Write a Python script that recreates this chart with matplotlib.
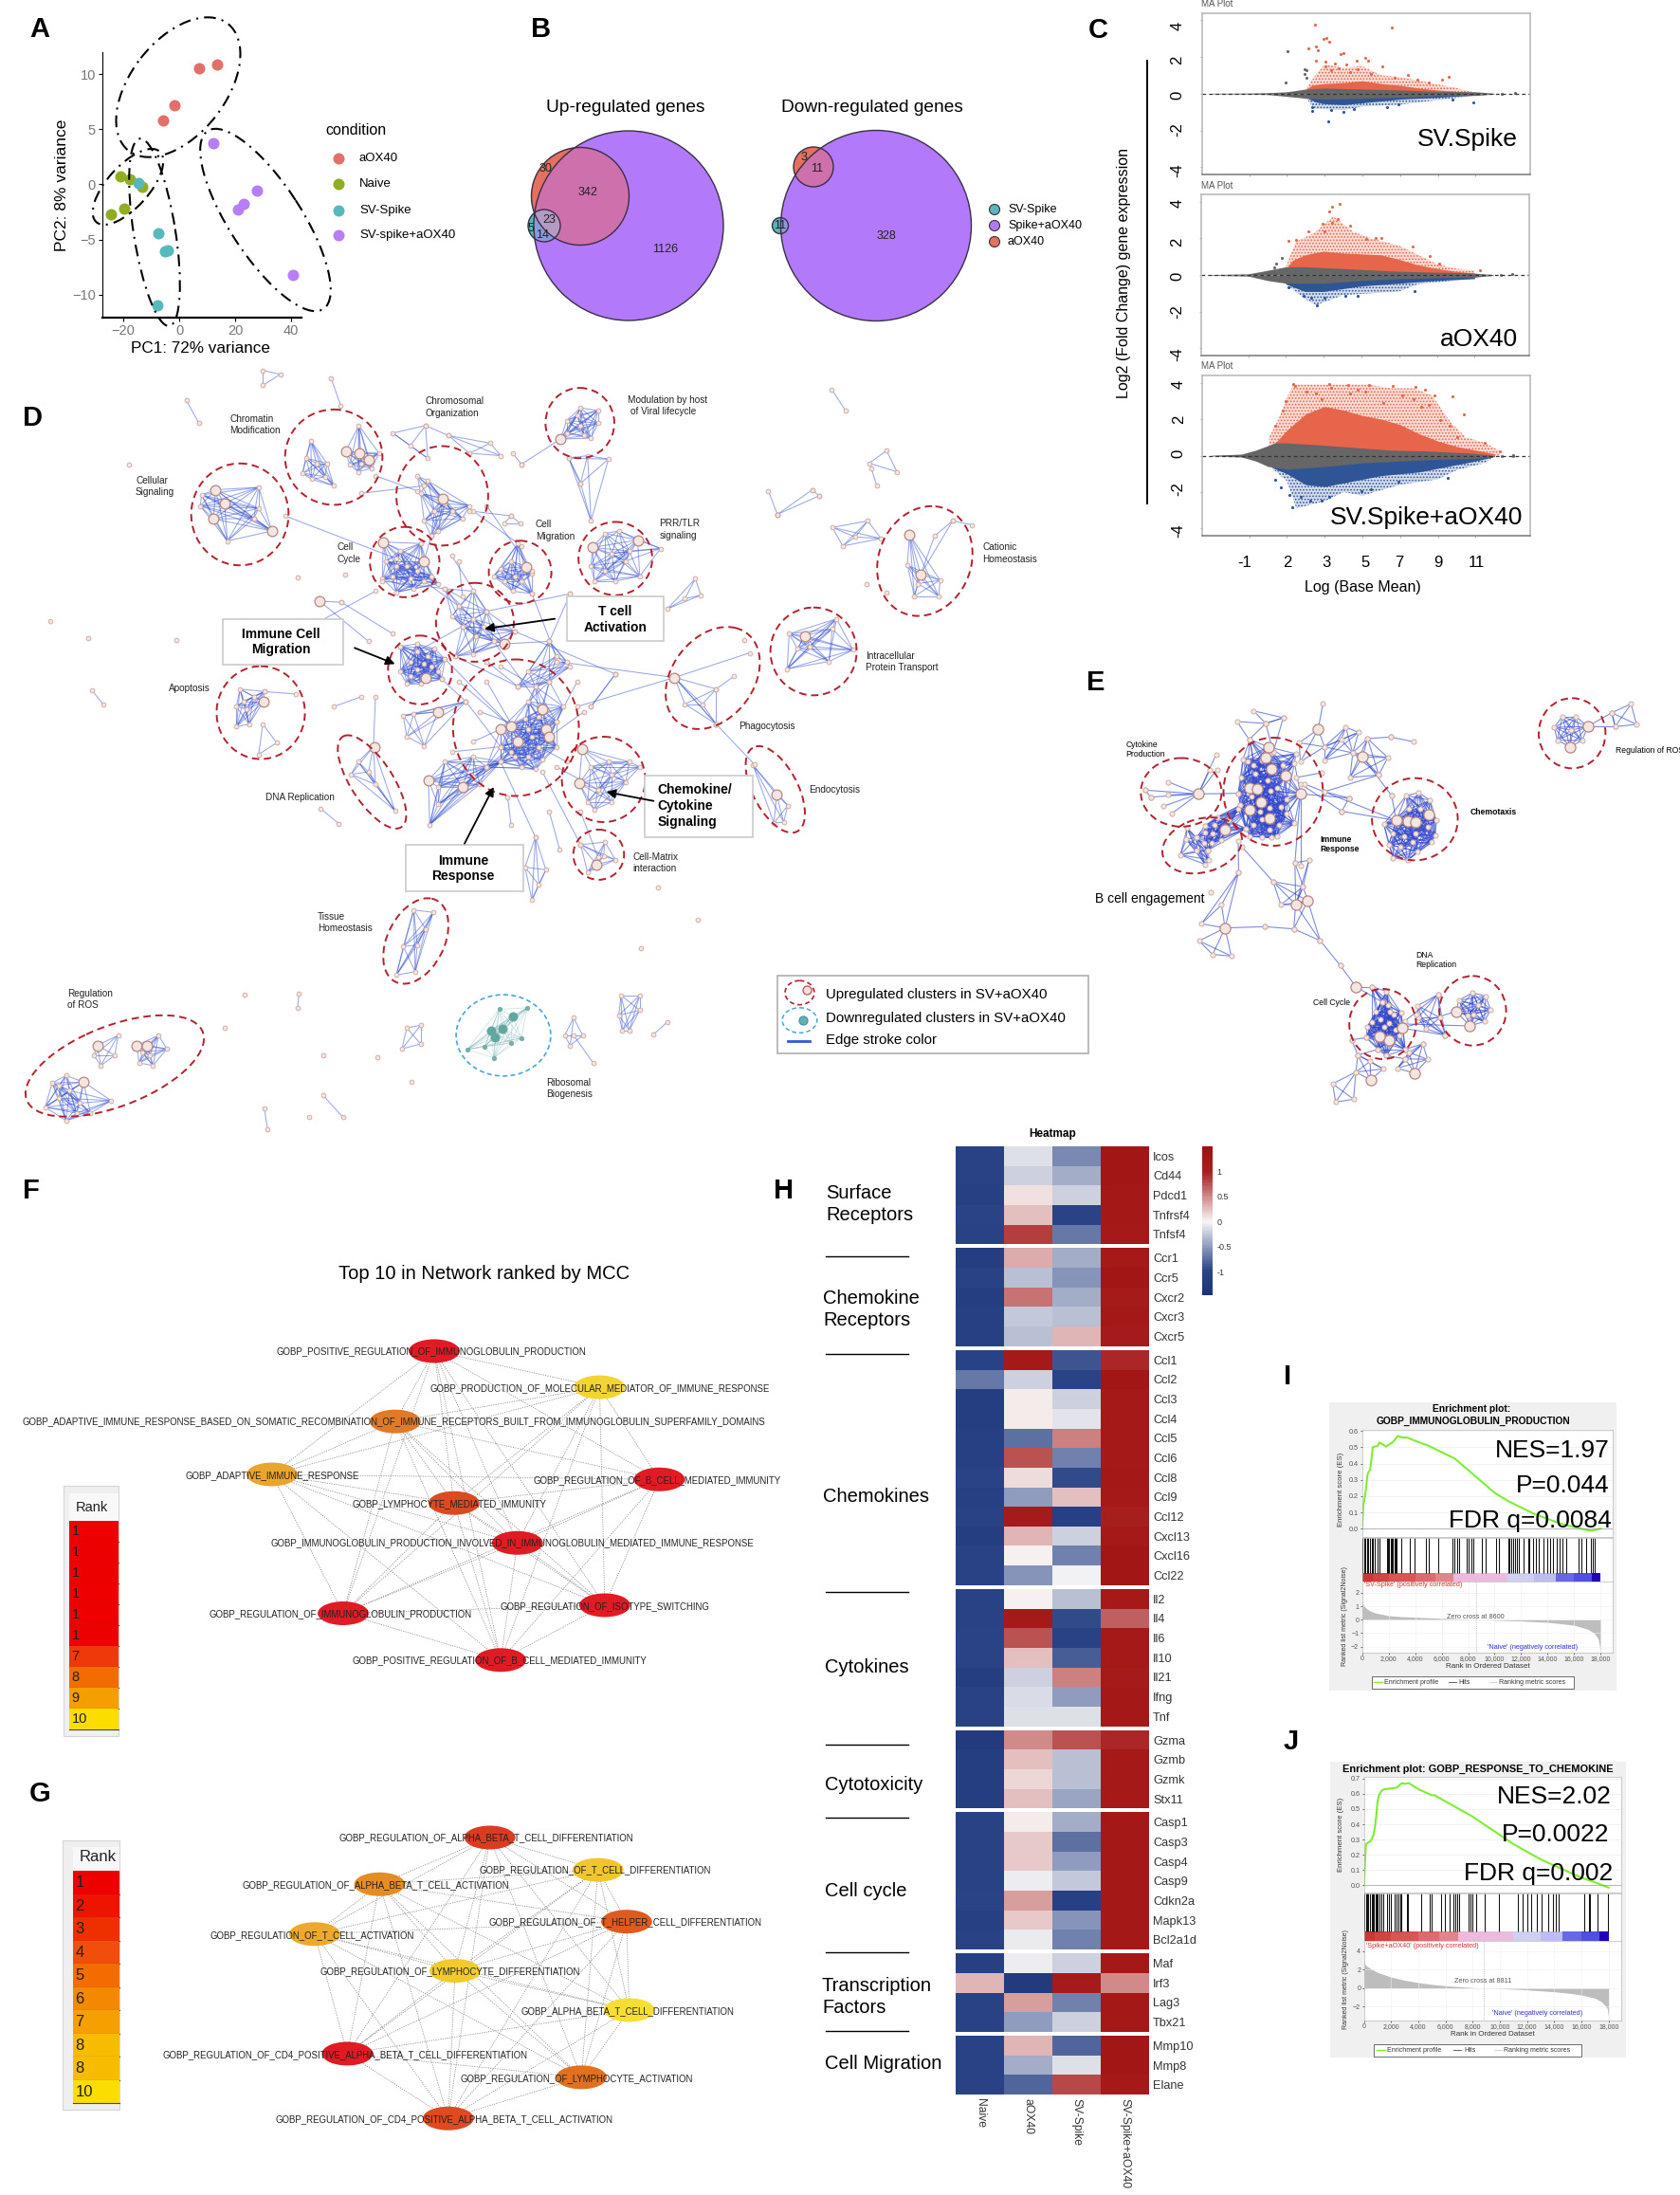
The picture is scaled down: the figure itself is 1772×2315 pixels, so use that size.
import itertools
import numpy as np
import matplotlib
matplotlib.use("Agg")
import matplotlib.pyplot as plt
from matplotlib.collections import LineCollection
from matplotlib.colors import LinearSegmentedColormap
from matplotlib.patches import Ellipse, Rectangle, FancyArrowPatch

plt.rcParams['font.family'] = ['Liberation Sans', 'DejaVu Sans']
plt.rcParams['hatch.linewidth'] = .8

W, H = 1772, 2315

# ---- A: PCA
pca_names = ['aOX40', 'Naive', 'SV-Spike', 'SV-spike+aOX40']
pca_colors = ['#E2706A', '#8FAE22', '#56B9BE', '#B77FF5']
pca_x = [[13.4, 7.2, -1.7, -5.7], [-20.9, -17.7, -13.4, -19.7, -24.4],
         [-14.7, -7.5, -4, -5, -7.7], [12, 27.9, 22.9, 20.9, 40.6]]
pca_y = [[10.85, 10.5, 7.2, 5.8], [.7, .5, -.2, -2.2, -2.7],
         [.1, -4.4, -6, -6.1, -11], [3.7, -.6, -1.75, -2.3, -8.2]]

# ---- C: MA plots. envelopes, (x, value)
ma_titles = ['SV.Spike', 'aOX40', 'SV.Spike+aOX40']
grey_up = [[(-3, .02), (-1, .03), (0, .05), (1, .1), (2, .25), (3, .3), (5, .25), (7, .2), (9, .12), (11, .1), (12, .02)],
           [(-3, .02), (-1, .06), (0, .25), (1, .45), (2, .45), (3, .4), (5, .3), (7, .2), (9, .15), (11, .1), (12, .02)],
           [(-3, .02), (-1.4, .08), (-.65, .3), (0, .55), (.35, .7), (.95, .7), (2.55, .6), (4.55, .45), (6.5, .3), (8.5, .25), (10.5, .15), (11.7, .05), (12, 0)]]
grey_lo = [[(-3, -.02), (-1, -.03), (0, -.05), (1, -.15), (2, -.25), (3, -.3), (5, -.25), (7, -.2), (9, -.12), (11, -.1), (12, -.02)],
           [(-3, -.02), (-1, -.06), (0, -.3), (1, -.45), (3, -.45), (5, -.3), (7, -.2), (9, -.15), (11, -.12), (12, -.02)],
           [(-3, -.02), (-1.4, -.08), (-.65, -.3), (0, -.6), (1, -.75), (3, -.6), (5, -.4), (7, -.3), (9, -.2), (11, -.15), (12, -.05)]]
red_dense = [[(1.9, .1), (2.3, .45), (3, .55), (4, .6), (5, .7), (6, .55), (7, .45), (8, .3), (9, .2), (10, .12), (11, .05)],
             [(.9, .2), (1.35, .8), (2, 1.1), (3, 1.3), (4, 1.2), (5, 1.15), (6, 1.1), (7, .85), (8, .55), (9, .35), (10, .2), (11, .1)],
             [(.2, .5), (1, 1.4), (2, 2.3), (3, 2.7), (4, 2.5), (5, 2.2), (6, 2), (7, 1.7), (8, 1.2), (9, .8), (10, .5), (11, .3), (12, .1)]]
red_sparse = [[(1.9, .1), (2.5, 1), (3, 1.6), (4, 1.4), (5, 1.5), (6, 1), (7, .9), (8, .7), (9, .5), (10, .3), (11, .05)],
              [(.9, .2), (1.5, 1.8), (2.5, 2.3), (3.5, 3.2), (4.5, 2.4), (5.5, 2), (7, 1.6), (8, 1.1), (9, .6), (10, .35), (11, .25)],
              [(.05, 1), (.55, 2), (.95, 3.1), (1.35, 3.9), (3.35, 3.9), (5.3, 3.9), (6.5, 3.7), (7.7, 3.7), (8.7, 3.3), (9.7, 1.8), (10.5, 1), (11.5, .7), (12.3, .25)]]
blue_dense = [[(2, -.2), (2.5, -.45), (3, -.55), (4, -.6), (5, -.5), (6, -.4), (7, -.3), (8, -.25), (9, -.2), (11, -.08)],
              [(1, -.5), (1.5, -.7), (2, -.9), (3, -.9), (4, -.75), (5, -.6), (7, -.45), (9, -.3), (11, -.2)],
              [(.3, -.7), (1, -1), (2, -1.6), (3, -1.7), (4, -1.5), (5, -1.3), (6, -1.1), (7, -1), (8, -.9), (9, -.7), (10, -.5), (11, -.3), (12, -.05)]]
blue_sparse = [[(2, -.2), (2.4, -.8), (3, -.85), (4, -.9), (5, -.7), (7, -.6), (9, -.35), (11, -.1)],
               [(1, -.5), (2, -1.3), (2.6, -1.65), (4, -1.1), (7, -.9), (8, -.5), (11, -.2)],
               [(.2, -.7), (1, -1.4), (1.5, -2.9), (3, -2.5), (4, -2), (5, -2.2), (7, -1.6), (9, -1.3), (10, -.8), (11.5, -.4), (12, -.05)]]
red_pts = [[(2.49, 3.75), (2.94, 3), (3.08, 3.05), (3.24, 2.84), (2.15, 2.48), (2.55, 2.55), (2.65, 2.38), (3.98, 2.23), (3.84, 2.13), (2.55, 1.77), (3.04, 1.75), (3.54, 1.66), (4.14, 1.6), (4.7, 1.81), (5.14, 1.96), (5.3, 1.77), (3.04, 1.5), (3.34, 1.28), (3.74, 1.39), (6.03, 1.5), (7.43, 1.03), (9.56, .9), (9.2, .76), (6.57, 3.58), (4.34, 1.18), (4.74, 1.33), (5.43, 1.07), (6.73, .86), (7.9, .76), (8.5, .61)],
           [(3.84, 3.89), (3.44, 3.75), (3.3, 3.47), (2.94, 2.8), (3.44, 2.84), (4.4, 2.69), (2.19, 2.38), (3.04, 2.38), (3.74, 3.05), (1.15, 1.85), (1.55, 1.9), (5.24, 1.96), (5.73, 2.04), (6.03, 2.04), (7.7, 1.54), (8.6, 1.05), (9.1, .63), (11.3, .27)],
           [(1.35, 3.94), (1.45, 3.83), (2.05, 3.52), (2.55, 3.41), (3.24, 3.94), (3.34, 3.73), (2.84, 3.09), (4.24, 3.89), (4.34, 3.41), (5.33, 3.89), (5.14, 3.52), (4.74, 3.62), (6.63, 3.83), (7.82, 3.79), (8.32, 3.62), (8.8, 3.3), (9.76, 3.24), (10.37, 2.25), (7.13, 3.3), (7.72, 3.09), (8.12, 2.67), (8.52, 2.78), (9.12, 1.94), (9.62, 1.62), (10.02, .99), (11.51, .72), (12.31, .25), (.95, 2.99), (.75, 2.46), (.35, 1.62), (6.13, 2.88)]]
blue_pts = [[(3.2, -1.52), (2.35, -.93), (3.98, -.99), (3.34, -.88), (10.9, -.46), (2.35, -.72), (4.54, -.82), (6.33, -.72), (6.93, -.57), (9.8, -.3)],
            [(2.65, -1.64), (1.95, -1.16), (3.04, -1.22), (4.14, -1.16), (4.78, -1.16), (7.79, -.9), (1.15, -.67), (2.35, -1.26)],
            [(1.29, -2.86), (1.15, -2.17), (1.75, -2.27), (2.25, -2.48), (2.84, -2.48), (3.24, -2.27), (4.94, -1.96), (5.43, -1.85), (6.93, -1.43), (9.52, -1.22), (.35, -1.33), (.65, -1.75)]]
grey_pts = [[(1.05, 2.32), (1.91, 1.33), (2.05, 1.28), (1.95, 1.07), (.95, .59), (2.05, .86), (13.1, .04), (12.4, 0)],
            [(.79, .95), (.49, .63), (.35, .42), (13, .05), (12.4, 0)],
            [(13, .05), (13, -.05), (12.4, 0)]]

# ---- H: heatmap
groups = [5, 5, 12, 7, 4, 7, 4, 3]
genes = ['Icos', 'Cd44', 'Pdcd1', 'Tnfrsf4', 'Tnfsf4', 'Ccr1', 'Ccr5', 'Cxcr2', 'Cxcr3', 'Cxcr5',
         'Ccl1', 'Ccl2', 'Ccl3', 'Ccl4', 'Ccl5', 'Ccl6', 'Ccl8', 'Ccl9', 'Ccl12', 'Cxcl13', 'Cxcl16', 'Ccl22',
         'Il2', 'Il4', 'Il6', 'Il10', 'Il21', 'Ifng', 'Tnf', 'Gzma', 'Gzmb', 'Gzmk', 'Stx11',
         'Casp1', 'Casp3', 'Casp4', 'Casp9', 'Cdkn2a', 'Mapk13', 'Bcl2a1d', 'Maf', 'Irf3', 'Lag3', 'Tbx21',
         'Mmp10', 'Mmp8', 'Elane']
heat_cols = ['Naive', 'aOX40', 'SV-Spike', 'SV-Spike+aOX40']
heat = [[-1.05, -.12, -.6, 1.3], [-1.05, -.2, -.4, 1.3], [-1.1, .1, -.2, 1.25], [-1, .25, -1, 1.25], [-1.05, .85, -.7, 1.2],
        [-1.15, .35, -.4, 1.2], [-1.05, -.3, -.55, 1.3], [-1.15, .6, -.4, 1.15], [-1.1, -.25, -.3, 1.25], [-1.1, -.3, .3, 1.15],
        [-1.05, 1.2, -.9, .95], [-.7, -.2, -1, 1.3], [-1.15, .05, -.2, 1.2], [-1.15, .05, -.1, 1.2], [-1.1, -.75, .55, 1.2],
        [-1.1, .75, -.65, 1.2], [-1, .12, -.95, 1.25], [-1.1, -.5, .25, 1.2], [-1.05, 1.15, -1.1, 1.05], [-1.15, .3, -.2, 1.2],
        [-1.05, .03, -.65, 1.3], [-1.05, -.55, -.03, 1.3],
        [-1.05, .03, -.3, 1.2], [-1.05, 1.2, -.95, .7], [-1, .75, -1.05, 1.2], [-1, .25, -.85, 1.2], [-1.15, -.2, .55, 1.15],
        [-1.05, -.15, -.5, 1.25], [-1.05, -.12, -.12, 1.25],
        [-1.25, .5, .75, .95], [-1.15, .25, -.3, 1.2], [-1.15, .15, -.3, 1.2], [-1.15, .25, -.45, 1.2],
        [-1.05, .05, -.4, 1.25], [-1.05, .2, -.75, 1.25], [-1.05, .2, -.5, 1.25], [-1.05, -.05, -.25, 1.25], [-1, .4, -1.1, 1.25],
        [-1.1, .2, -.55, 1.25], [-1.05, -.07, -.65, 1.25],
        [-1.1, -.05, -.2, 1.25], [.3, -1.25, 1.15, .5], [-1.05, .4, -.65, 1.25], [-1.05, -.5, -.2, 1.25],
        [-1.05, .3, -.8, 1.3], [-1.05, -.4, -.12, 1.3], [-1.05, -.8, .8, 1.2]]
group_names = [('Surface\nReceptors', 871, 1270), ('Chemokine\nReceptors', 868, 1381), ('Chemokines', 868, 1579),
               ('Cytokines', 870, 1759), ('Cytotoxicity', 870, 1883), ('Cell cycle', 870, 1995),
               ('Transcription\nFactors', 867, 2106), ('Cell Migration', 870, 2177)]
group_lines = [1325, 1428, 1679, 1840, 1917, 2059, 2142]

# ---- I, J: GSEA
es_i = [(0, 0), (100, .15), (200, .19), (300, .25), (400, .33), (500, .35), (600, .36), (700, .42), (800, .5), (1000, .505), (1200, .51), (1300, .53), (1500, .52), (1800, .505), (2000, .515), (2300, .53), (2700, .57), (3000, .56), (3400, .56), (4000, .54), (5000, .51), (6000, .47), (7000, .43), (8000, .36), (9000, .29), (10000, .22), (11000, .17), (12000, .13), (13000, .09), (14000, .06), (15000, .03), (16000, .01), (17000, -.01), (17300, -.012), (18000, 0)]
hits_i = [48, 143, 238, 358, 477, 596, 715, 834, 954, 1144, 1311, 1860, 1955, 2050, 2146, 2241, 2336, 2432, 2527, 2622, 2980, 3576, 3934, 4840, 5006, 5722, 6794, 6961, 7152, 7319, 7915, 8058, 8225, 8392, 9012, 9298, 10132, 10299, 11014, 11133, 11252, 11395, 11562, 11682, 11801, 12158, 12516, 12635, 12874, 13112, 13303, 13708, 13946, 14185, 14423, 14662, 14900, 15138, 15377, 16330, 16569, 16926, 17284, 17403, 17522]
metric_i = [(0, 1.4), (100, 1.1), (300, .85), (600, .65), (1000, .5), (2000, .3), (3000, .22), (4000, .18), (6000, .1), (8000, .03), (8600, 0), (10000, -.04), (12000, -.1), (14000, -.2), (15000, -.3), (16000, -.42), (17000, -.7), (17500, -1), (17800, -1.4), (18000, -2.4)]
es_j = [(0, 0), (100, .2), (150, .27), (300, .28), (500, .29), (700, .33), (800, .38), (900, .45), (1000, .55), (1100, .59), (1300, .62), (1500, .63), (2000, .635), (2400, .64), (2800, .67), (3000, .665), (3300, .67), (4000, .63), (5000, .59), (5200, .59), (6000, .55), (7000, .5), (8000, .45), (9000, .39), (10000, .33), (11000, .27), (12000, .22), (13000, .17), (14000, .13), (15000, .09), (16000, .05), (17000, .02), (18000, -.015)]
hits_j = [47, 140, 209, 326, 442, 558, 675, 744, 837, 907, 1023, 1140, 1303, 1442, 1675, 1838, 2000, 2233, 2373, 2535, 2652, 2768, 3163, 3256, 4187, 4861, 4978, 5675, 5978, 6280, 6559, 6745, 6885, 7001, 7722, 7815, 8001, 8234, 8885, 9955, 11328, 11677, 12002, 12305, 12700, 13072, 13537, 13933, 14119, 14328, 16189, 16561, 16654, 17189, 17957]
metric_j = [(0, 3), (100, 2.5), (500, 2.1), (1000, 1.7), (2000, 1.2), (3000, .85), (4000, .6), (5000, .4), (6000, .25), (7000, .15), (8000, .05), (8811, 0), (10000, -.05), (11000, -.12), (12000, -.2), (13000, -.3), (14000, -.4), (15000, -.55), (16000, -.75), (17000, -1.1), (17500, -1.5), (17900, -2.2), (18000, -3.2)]
strip_edges = [0, 800, 2000, 4000, 5500, 6900, 8500, 11000, 13000, 14600, 16000, 17300, 18000]
strip_colors = ['#C93636', '#D24444', '#D95555', '#DC6A70', '#E2848C', '#EDB9DC', '#EBBBDD', '#CFCFF2', '#BDBDF0', '#6868E4', '#5050E0', '#2200BB']

# ---- D network nodes (x, y of the crop)
d_clusters = [
    [(447, 160), (440, 195), (455, 205), (470, 205), (435, 225), (448, 237), (468, 232), (480, 250)],
    [(516, 130), (497, 182), (517, 185), (530, 198), (503, 208), (515, 222), (535, 215), (520, 205), (545, 185)],
    [(290, 268), (310, 258), (323, 285), (288, 290), (307, 316), (365, 315), (391, 340), (327, 360), (372, 253), (372, 295)],
    [(615, 240), (605, 265), (637, 275), (650, 300), (675, 290), (610, 320), (625, 300), (630, 340), (620, 350), (665, 315), (640, 285), (600, 230), (612, 130), (645, 150)],
    [(565, 145), (612, 130), (590, 170), (615, 195)],
    [(645, 150), (675, 185), (705, 165), (720, 190)],
    [(806, 157), (835, 95), (815, 120), (860, 100), (850, 155), (835, 130), (860, 125), (815, 145), (840, 150), (830, 110)],
    [(835, 245), (850, 320), (875, 197), (818, 195), (845, 190)],
    [(551, 362), (610, 400), (585, 410), (570, 410), (600, 420), (565, 430), (590, 435), (610, 440), (575, 380), (555, 400), (620, 430), (570, 462), (595, 455), (630, 445), (550, 435), (605, 365)],
    [(757, 411), (720, 415), (735, 400), (710, 430), (740, 430), (725, 440), (750, 440), (737, 460), (765, 465), (745, 365), (765, 425)],
    [(917, 358), (852, 373), (890, 340), (870, 345), (905, 380), (880, 385), (850, 410), (870, 420), (920, 430), (885, 440), (900, 400), (855, 440), (950, 375)],
    [(1308, 347), (1305, 408), (1324, 427), (1320, 445), (1352, 438), (1350, 470), (1315, 470)],
    [(1344, 350), (1370, 320), (1324, 427)],
    [(1157, 549), (1135, 545), (1147, 575), (1197, 535), (1227, 577), (1192, 600), (1132, 615), (1165, 570), (1203, 515)],
    [(660, 490), (680, 460), (640, 455), (650, 510), (680, 515), (665, 530), (695, 530), (685, 550), (710, 560), (725, 565), (680, 585), (655, 590), (700, 500), (740, 540)],
    [(575, 570), (600, 580), (625, 575), (640, 595), (590, 600), (610, 605), (575, 620), (590, 630), (612, 632), (630, 620), (605, 645), (585, 645), (635, 635), (600, 565), (615, 590), (600, 615), (620, 610)],
    [(379, 680), (380, 660), (345, 655), (365, 670), (340, 690), (355, 695), (350, 680), (340, 730), (358, 725)],
    [(378, 725), (398, 762), (372, 785)],
    [(537, 770), (515, 800), (505, 825), (530, 820), (540, 845), (568, 897)],
    [(780, 695), (770, 650), (790, 640), (735, 730), (755, 715), (785, 735), (800, 720), (720, 735), (745, 760), (765, 750), (790, 750), (720, 770), (740, 790), (760, 790), (780, 795), (720, 800), (700, 810), (750, 810), (770, 815), (735, 780), (800, 770), (760, 680), (810, 690), (775, 710), (760, 735), (775, 770)],
    [(815, 600), (820, 610), (790, 560), (745, 650), (770, 650), (790, 640), (800, 590), (760, 620)],
    [(680, 830), (665, 850), (690, 845), (616, 837), (630, 850), (640, 800), (680, 790), (630, 885), (618, 925), (700, 810), (720, 800)],
    [(630, 700), (595, 705), (580, 708), (610, 768), (670, 680), (585, 750)],
    [(837, 775), (833, 843), (860, 855), (880, 825), (900, 840), (875, 800), (905, 800), (850, 810), (845, 880), (880, 880), (920, 810), (855, 895)],
    [(858, 1005), (868, 988), (885, 995), (835, 965), (845, 1020), (870, 960)],
    [(770, 950), (755, 1010), (785, 1015), (765, 1075), (775, 1045)],
    [(595, 1095), (623, 1100), (612, 1133), (580, 1168), (600, 1165), (570, 1225), (597, 1218)],
    [(65, 1488), (75, 1440), (95, 1425), (120, 1438), (115, 1480), (85, 1470), (100, 1455), (95, 1515), (130, 1500), (160, 1475), (85, 1445), (110, 1500)],
    [(140, 1365), (170, 1345), (145, 1405), (135, 1385), (165, 1385)],
    [(197, 1365), (212, 1365), (200, 1400), (220, 1405), (240, 1372), (228, 1345), (215, 1385), (205, 1380)],
    [(585, 1330), (605, 1325), (605, 1362), (578, 1372)],
    [(825, 1310), (812, 1345), (838, 1345), (820, 1365)],
    [(893, 1265), (920, 1265), (890, 1305), (920, 1295), (905, 1335), (895, 1335)],
    [(378, 20), (403, 28), (378, 50)],
    [(1275, 180), (1250, 205), (1290, 222)],
    [(1197, 333), (1212, 370), (1230, 352), (1248, 320), (1267, 355)],
    [(1000, 435), (960, 495), (985, 475), (1008, 468)],
    [(970, 632), (1030, 655), (1010, 685), (985, 685), (1030, 725)],
    [(1083, 807), (1117, 866), (1113, 922), (1127, 920), (1133, 887)],
    [(735, 310), (725, 325), (748, 325)],
]
d_pairs = [((268, 80), (286, 125)), ((476, 35), (490, 90)), ((1196, 58), (1216, 100)), ((132, 657), (148, 685)),
           ((480, 690), (520, 670)), ((461, 893), (487, 923)), ((465, 1465), (493, 1508)), ((380, 1490), (385, 1533)),
           ((430, 1262), (428, 1290)), ((940, 1343), (960, 1318)), ((1253, 215), (1261, 250)), ((1105, 260), (1118, 307)),
           ((1118, 307), (1168, 258)), ((1118, 307), (1178, 270)), ((1168, 258), (1178, 270)),
           ((825, 1345), (853, 1400)), ((750, 207), (806, 157)), ((737, 185), (750, 207)),
           ((391, 340), (365, 315)), ((410, 310), (570, 395)), ((610, 440), (660, 490)), ((620, 350), (610, 400)),
           ((710, 560), (780, 695)), ((640, 595), (735, 730)), ((680, 300), (750, 370)), ((460, 480), (491, 482)),
           ((491, 482), (565, 545)), ((460, 480), (530, 560)), ((800, 600), (970, 632)), ((850, 690), (885, 625)),
           ((830, 690), (970, 632)), ((970, 632), (1078, 583)), ((1030, 655), (1055, 630)), ((1030, 725), (1085, 805)),
           ((970, 632), (1030, 725)), ((540, 670), (537, 770)), ((720, 800), (770, 950)), ((780, 820), (835, 965)),
           ((800, 810), (860, 855)), ((540, 460), (460, 520)), ((550, 440), (640, 455)), ((725, 565), (790, 560)),
           ((740, 540), (885, 625)), ((820, 465), (790, 560)), ((765, 465), (800, 590)), ((700, 500), (820, 465)),
           ((665, 530), (600, 580)), ((655, 590), (745, 650)), ((635, 635), (670, 680)), ((425, 665), (380, 660)),
           ((885, 625), (850, 690)), ((660, 400), (665, 470)), ((650, 390), (700, 500)), ((610, 250), (520, 265)),
           ((1370, 320), (1398, 328)), ((835, 245), (818, 195)), ((835, 900), (860, 990)), ((730, 870), (735, 925)),
           ((790, 900), (805, 975)), ((675, 300), (735, 310)), ((700, 290), (765, 420)), ((540, 230), (600, 260)),
           ((670, 680), (720, 770)), ((700, 640), (750, 760)), ((660, 640), (735, 730)), ((690, 700), (760, 735)),
           ((680, 760), (720, 735)), ((650, 780), (720, 770)), ((830, 640), (800, 720)), ((840, 700), (790, 750)),
           ((815, 800), (775, 770)), ((720, 610), (770, 650)), ((700, 600), (745, 650))]
d_single = [(72, 520), (127, 553), (254, 558), (185, 208), (428, 432), (496, 427), (1070, 558), (946, 1050), (1003, 1115),
            (922, 1172), (352, 1263), (323, 1330), (465, 1385), (543, 1388), (592, 1438), (445, 1508), (1246, 445), (1275, 462)]
d_big = [(323, 285), (391, 340), (310, 258), (307, 316), (637, 275), (551, 362), (610, 400), (757, 411), (460, 480), (806, 157),
         (852, 373), (917, 358), (1324, 427), (1308, 347), (970, 632), (379, 680), (616, 837), (665, 850), (630, 700), (837, 775),
         (833, 843), (858, 1005), (197, 1365), (212, 1365), (140, 1365), (120, 1438), (517, 185), (497, 182), (530, 198),
         (1157, 549), (1117, 866), (780, 695), (735, 730), (785, 735), (745, 760), (720, 735), (790, 750), (725, 565), (612, 632), (538, 770)]
ribo = [(706, 1335), (712, 1348), (737, 1307), (722, 1332), (718, 1293), (758, 1290), (750, 1350), (735, 1360), (710, 1390), (672, 1373), (697, 1367)]
ribo_big = [(706, 1335), (712, 1348), (737, 1307), (722, 1332)]
# cx, cy, w, h, angle, colour
d_rings = [(480, 193, 140, 190, 0), (345, 307, 140, 203, 0), (636, 270, 132, 198, 0), (834, 125, 99, 140, 0),
           (582, 402, 100, 140, 0), (748, 422, 90, 125, 0), (885, 395, 106, 146, 0), (1330, 400, 135, 220, 8),
           (1170, 580, 124, 175, 0), (1025, 633, 125, 210, 18), (683, 522, 112, 157, 0), (604, 617, 92, 137, 0),
           (375, 702, 127, 185, 0), (535, 840, 65, 200, -23), (742, 732, 181, 272, 0), (868, 835, 120, 170, 0),
           (1115, 855, 68, 180, -18), (861, 985, 73, 100, 0), (598, 1157, 85, 175, 15), (165, 1406, 290, 150, -33)]
d_texts = [(330, 117, 'Chromatin'), (330, 139, 'Modification'), (612, 82, 'Chromosomal'), (612, 106, 'Organization'),
           (903, 79, 'Modulation by host'), (907, 102, 'of Viral lifecycle'), (195, 239, 'Cellular'), (195, 263, 'Signaling'),
           (485, 373, 'Cell'), (485, 397, 'Cycle'), (770, 327, 'Cell'), (770, 352, 'Migration'), (948, 325, 'PRR/TLR'),
           (948, 349, 'signaling'), (1413, 373, 'Cationic'), (1413, 397, 'Homeostasis'), (1245, 589, 'Intracellular'),
           (1245, 613, 'Protein Transport'), (243, 653, 'Apoptosis'), (1063, 729, 'Phagocytosis'), (382, 871, 'DNA Replication'),
           (1163, 855, 'Endocytosis'), (910, 989, 'Cell-Matrix'), (910, 1012, 'interaction'), (457, 1108, 'Tissue'),
           (457, 1132, 'Homeostasis'), (97, 1262, 'Regulation'), (97, 1285, 'of ROS'), (785, 1439, 'Ribosomal'), (785, 1463, 'Biogenesis')]

# ---- E network
e_clusters = [
    [(1265, 227), (1300, 227), (1244, 261), (1287, 270), (1330, 259), (1252, 302), (1316, 303), (1284, 323)],
    [(1330, 259), (1392, 215), (1401, 259)], [(1392, 215), (1442, 187), (1456, 252), (1401, 259)],
    [(837, 556), (868, 559), (887, 560), (920, 537), (895, 468), (863, 477), (924, 492), (805, 568), (940, 555), (918, 577), (938, 603), (887, 598), (857, 605), (827, 597), (880, 625), (928, 625), (818, 632), (848, 640), (892, 655), (829, 674), (866, 682), (900, 520), (870, 520)],
    [(507, 323), (500, 357), (455, 370), (442, 362), (516, 393), (475, 407), (552, 414), (458, 452), (478, 455), (530, 452), (488, 497), (590, 472), (555, 490), (512, 462), (510, 515), (458, 522), (485, 527), (510, 548), (540, 512), (555, 535), (470, 570), (450, 582), (490, 552), (535, 570), (575, 565), (510, 585), (460, 605), (490, 610), (530, 605), (515, 610), (435, 508), (575, 375), (490, 365), (470, 380), (545, 380), (438, 420), (578, 345), (460, 300), (430, 470), (505, 430), (465, 480)],
    [(396, 584), (345, 572), (370, 570), (345, 595), (365, 597), (385, 617), (342, 628), (362, 628), (322, 610), (352, 650), (430, 520), (458, 522), (450, 582), (435, 508), (405, 555), (375, 545)],
    [(296, 615), (322, 610), (322, 652), (352, 650), (281, 665), (345, 695), (355, 680), (298, 580)],
    [(469, 209), (546, 231), (501, 249)], [(427, 243), (501, 249), (458, 300)], [(501, 249), (546, 231), (520, 340)],
    [(636, 267), (587, 310), (652, 323), (590, 370)], [(707, 261), (740, 277), (695, 300), (725, 342), (652, 323), (652, 365)],
    [(750, 355), (725, 342), (763, 297), (718, 420), (792, 412), (815, 357)],
    [(431, 720), (387, 823), (396, 896), (335, 883)], [(396, 896), (329, 937), (364, 980), (412, 985)],
    [(578, 822), (609, 810), (540, 823), (520, 750), (597, 765)], [(576, 690), (612, 682), (597, 765), (578, 822)],
    [(573, 899), (578, 822), (641, 936), (609, 810)],
    [(818, 1252), (793, 1240), (853, 1213), (805, 1210), (818, 1197), (835, 1218), (785, 1160), (815, 1140), (850, 1165), (775, 1195), (762, 1210), (760, 1243), (790, 1280), (812, 1300), (845, 1235), (800, 1130), (775, 1082), (812, 1097), (830, 1170), (795, 1185), (820, 1160), (860, 1280)],
    [(738, 1298), (770, 1318), (733, 1352), (803, 1342), (771, 1377)],
    [(733, 1352), (673, 1389), (727, 1438), (681, 1447)],
    [(840, 1340), (885, 1356), (918, 1312), (905, 1263), (860, 1310), (870, 1290)],
    [(991, 1160), (1027, 1206), (998, 1125), (1034, 1101), (1067, 1112), (1080, 1155), (1064, 1192), (1020, 1172), (1048, 1140), (1035, 1170)],
    [(944, 1107), (892, 1142), (893, 1180), (913, 1215), (950, 1180), (963, 1235)],
]
e_pairs = [((327, 472), p) for p in [(250, 434), (250, 475), (190, 460), (204, 482), (237, 511), (260, 533), (357, 395), (375, 395), (430, 470), (373, 347)]] + \
          [((190, 460), (204, 482)), ((648, 187), (636, 267)), ((590, 472), (590, 700)), ((590, 472), (576, 690)),
           ((430, 620), (431, 720)), ((440, 640), (520, 750)), ((396, 896), (498, 892)), ((498, 892), (573, 899)),
           ((641, 936), (693, 1015)), ((693, 1015), (733, 1082)), ((733, 1082), (775, 1082)), ((733, 1082), (800, 1130)),
           ((590, 472), (715, 485)), ((590, 440), (697, 527)), ((697, 527), (715, 485)), ((652, 465), (715, 485)),
           ((697, 527), (837, 556)), ((600, 440), (837, 556)), ((652, 465), (792, 412)), ((763, 297), (822, 292)),
           ((822, 292), (882, 307)), ((750, 355), (825, 477)), ((825, 477), (837, 556)), ((645, 405), (580, 420)),
           ((853, 1213), (991, 1160)), ((860, 1200), (1027, 1206)), ((860, 1190), (944, 1107)), ((853, 1213), (963, 1235)),
           ((760, 1243), (722, 1250)), ((722, 1250), (738, 1298)), ((790, 1280), (738, 1298)), ((812, 1300), (860, 1310)),
           ((860, 1280), (905, 1263)), ((890, 1170), (963, 1235))]
e_single = [(360, 783)]
e_big = [(327, 472), (507, 323), (500, 357), (516, 393), (552, 414), (458, 452), (478, 455), (488, 497), (590, 472), (396, 584), (636, 267),
         (750, 355), (837, 556), (868, 559), (887, 560), (920, 537), (396, 896), (578, 822), (609, 810), (733, 1082), (818, 1252), (793, 1240),
         (853, 1213), (771, 1377), (885, 1356), (991, 1160), (1027, 1206), (1330, 259), (1284, 323), (510, 548), (458, 522)]
e_rings = [(283, 467, 208, 217, 0), (520, 465, 256, 342, 0), (337, 635, 215, 165, -28), (885, 552, 221, 260, 0),
           (802, 1200, 172, 222, 0), (1034, 1158, 172, 220, 0), (1290, 280, 172, 222, 0)]

# ---- F, G
f_nodes = [(835, 312), (1153, 370), (760, 425), (523, 510), (1268, 518), (873, 556), (995, 620), (660, 733), (1163, 720), (963, 808)]
f_colors = ['#E01B24', '#F4D433', '#E07A28', '#EAA52D', '#E01B24', '#DE4A1F', '#E01B24', '#E01B24', '#E01B24', '#E01B24']
f_labels = [(532, 313, 'GOBP_POSITIVE_REGULATION_OF_IMMUNOGLOBULIN_PRODUCTION'),
            (827, 371, 'GOBP_PRODUCTION_OF_MOLECULAR_MEDIATOR_OF_IMMUNE_RESPONSE'),
            (43, 425, 'GOBP_ADAPTIVE_IMMUNE_RESPONSE_BASED_ON_SOMATIC_RECOMBINATION_OF_IMMUNE_RECEPTORS_BUILT_FROM_IMMUNOGLOBULIN_SUPERFAMILY_DOMAINS'),
            (357, 511, 'GOBP_ADAPTIVE_IMMUNE_RESPONSE'),
            (1025, 519, 'GOBP_REGULATION_OF_B_CELL_MEDIATED_IMMUNITY'),
            (678, 557, 'GOBP_LYMPHOCYTE_MEDIATED_IMMUNITY'),
            (520, 620, 'GOBP_IMMUNOGLOBULIN_PRODUCTION_INVOLVED_IN_IMMUNOGLOBULIN_MEDIATED_IMMUNE_RESPONSE'),
            (402, 734, 'GOBP_REGULATION_OF_IMMUNOGLOBULIN_PRODUCTION'),
            (962, 722, 'GOBP_REGULATION_OF_ISOTYPE_SWITCHING'),
            (678, 809, 'GOBP_POSITIVE_REGULATION_OF_B_CELL_MEDIATED_IMMUNITY')]
f_rank = [1, 1, 1, 1, 1, 1, 7, 8, 9, 10]
f_rank_colors = ['#EE0000'] * 6 + ['#EE3A0A', '#F26C00', '#F59E00', '#FBDD00']
g_nodes = [(942, 1093), (1150, 1145), (730, 1168), (605, 1248), (1205, 1228), (875, 1307), (1210, 1370), (668, 1440), (1118, 1478), (862, 1544)]
g_colors = ['#DD3A22', '#F1C52E', '#E58D25', '#ECA92C', '#DF5A1E', '#F2CA2C', '#F7DE30', '#E01B24', '#E2701F', '#DF4A20']
g_labels = [(652, 1093, 'GOBP_REGULATION_OF_ALPHA_BETA_T_CELL_DIFFERENTIATION'),
            (921, 1145, 'GOBP_REGULATION_OF_T_CELL_DIFFERENTIATION'),
            (466, 1170, 'GOBP_REGULATION_OF_ALPHA_BETA_T_CELL_ACTIVATION'),
            (403, 1250, 'GOBP_REGULATION_OF_T_CELL_ACTIVATION'),
            (940, 1229, 'GOBP_REGULATION_OF_T_HELPER_CELL_DIFFERENTIATION'),
            (616, 1308, 'GOBP_REGULATION_OF_LYMPHOCYTE_DIFFERENTIATION'),
            (1001, 1372, 'GOBP_ALPHA_BETA_T_CELL_DIFFERENTIATION'),
            (312, 1442, 'GOBP_REGULATION_OF_CD4_POSITIVE_ALPHA_BETA_T_CELL_DIFFERENTIATION'),
            (885, 1480, 'GOBP_REGULATION_OF_LYMPHOCYTE_ACTIVATION'),
            (529, 1546, 'GOBP_REGULATION_OF_CD4_POSITIVE_ALPHA_BETA_T_CELL_ACTIVATION')]
g_rank = [1, 2, 3, 4, 5, 6, 7, 8, 8, 10]
g_rank_colors = ['#EE0000', '#EE1500', '#EE3000', '#F04E0A', '#F26C00', '#F48800', '#F5A000', '#F7BC00', '#F7BC00', '#FBDD00']

letters = [('A', 42, 31), ('B', 571, 31), ('C', 1158, 32), ('D', 35, 441), ('E', 1156, 720), ('F', 33, 1256),
           ('G', 42, 1892), ('H', 827, 1256), ('I', 1358, 1452), ('J', 1362, 1837)]

fig = plt.figure(figsize=(W / 100, H / 100), dpi=100)


def add_px(x0, y0, x1, y1, z=1):
    ax = fig.add_axes([x0 / W, 1 - y1 / H, (x1 - x0) / W, (y1 - y0) / H], zorder=z)
    return ax


def crop_ax(x0, y0, x1, y1, zw, zh, z=2):
    # axes whose units are those of a crop of the picture
    ax = add_px(x0, y0, x1, y1, z)
    ax.set_xlim(0, zw)
    ax.set_ylim(zh, 0)
    ax.axis('off')
    ax.patch.set_visible(False)
    return ax


def split(pairs):
    return [p[0] for p in pairs], [p[1] for p in pairs]


def draw_net(ax, clusters, pairs, singles, big, s=12, sb=60, lw=.75, alpha=.42, ecol='#3F5AD8', reach=80):
    segs = []
    for c in clusters:
        for a, b in itertools.combinations(c, 2):
            # big clusters only link near neighbours
            if len(c) < 12 or np.hypot(a[0] - b[0], a[1] - b[1]) < reach:
                segs.append((a, b))
    segs += list(pairs)
    ax.add_collection(LineCollection(segs, colors=ecol, linewidths=lw, alpha=alpha, zorder=2))
    pts = [p for c in clusters for p in c] + [q for p in pairs for q in p] + list(singles)
    x, y = split(pts)
    ax.scatter(x, y, s=s, c='#F2E6E0', edgecolors='#CBA59E', linewidths=.6, zorder=3)
    x, y = split(big)
    ax.scatter(x, y, s=sb, c='#F2E6E0', edgecolors='#B98580', linewidths=.9, zorder=4)


def rings(ax, rs, col='#B5202C', lw=1.4):
    for cx, cy, w, h, a in rs:
        ax.add_patch(Ellipse((cx, cy), w, h, angle=a, fill=False, ec=col, lw=lw, ls=(0, (4, 2.5)), zorder=5))


# ---- panel letters etc in figure pixels
ov = crop_ax(0, 0, W, H, W, H, z=10)
for t, x, y in letters:
    ov.text(x, y, t, fontsize=21, fontweight='bold', ha='center', va='center')

# ---- A
ax = add_px(108, 55, 318, 335)
for x, y, c in zip(pca_x, pca_y, pca_colors):
    ax.scatter(x, y, s=75, c=c, linewidths=0, clip_on=False)
ax.set_xlim(-27.5, 43.7)
ax.set_ylim(-12.1, 12)
ax.set_xticks([-20, 0, 20, 40])
ax.set_yticks([-10, -5, 0, 5, 10])
ax.tick_params(labelsize=10.5, labelcolor='#777777', length=3, pad=2)
for s in ['top', 'right']:
    ax.spines[s].set_visible(False)
ax.spines['bottom'].set_linewidth(1.6)
ov.text(212, 368, 'PC1: 72% variance', fontsize=12.3, ha='center', va='center')
ov.text(66, 195, 'PC2: 8% variance', fontsize=12.5, rotation=90, ha='center', va='center')
for cx, cy, a, b, ang in [(188, 92, 170, 100, -52), (135, 197, 100, 44, 132), (163, 245, 200, 44, 81), (280, 232, 224, 76, 57)]:
    ov.add_patch(Ellipse((cx, cy), a, b, angle=ang, fill=False, ec='black', lw=1.5, ls=(0, (6, 3, 1, 3))))
ov.text(343, 137, 'condition', fontsize=11.5, va='center')
for n, c, y in zip(pca_names, pca_colors, [167, 194, 222, 248]):
    ov.scatter([357], [y], s=75, c=c, linewidths=0)
    ov.text(379, y, n, fontsize=9.5, va='center')

# ---- B: venn in figure pixels
vp = crop_ax(0, 0, W, H, W, H, z=3)
purple, red, teal = '#B27AFA', '#E4705F', '#5AB5BD'


def venn(cpur, rpur, cred, rred, ctea, rtea):
    p = Ellipse(cpur, rpur * 2, rpur * 2, fc=purple, ec='none', zorder=2)
    vp.add_patch(Ellipse(cred, rred * 2, rred * 2, fc=red, ec='none', zorder=1))
    vp.add_patch(Ellipse(ctea, rtea * 2, rtea * 2, fc=teal, ec='none', zorder=1))
    vp.add_patch(p)
    o = vp.add_patch(Ellipse(cred, rred * 2, rred * 2, fc='#CE70AC', ec='none', zorder=3))
    o.set_clip_path(p)
    o = vp.add_patch(Ellipse(ctea, rtea * 2, rtea * 2, fc='#8A9BDD', ec='none', zorder=4))
    o.set_clip_path(p)
    return p


venn((663, 238), 100, (612, 207), 51.5, (574, 238), 17)
overlap = vp.add_patch(Ellipse((574, 238), 34, 34, fc='#B49BC4', ec='none', zorder=5))
overlap.set_clip_path(Ellipse((612, 207), 103, 103, transform=vp.transData))
venn((924, 238), 100.5, (858, 176), 21, (823, 238), 8.5)
for c, r in [((663, 238), 100), ((612, 207), 51.5), ((574, 238), 17), ((924, 238), 100.5), ((858, 176), 21), ((823, 238), 8.5)]:
    vp.add_patch(Ellipse(c, r * 2, r * 2, fill=False, ec='#3A3045', lw=1, zorder=6))
for x, y, t in [(576, 178, '30'), (620, 203, '342'), (702, 263, '1126'), (579, 232, '23'), (572, 248, '14'), (560, 241, '5'),
                (848, 166, '3'), (862, 178, '11'), (823, 238, '11'), (935, 249, '328')]:
    vp.text(x, y, t, fontsize=9, ha='center', va='center', color='#222222', zorder=7)
vp.text(660, 114, 'Up-regulated genes', fontsize=13.8, ha='center', va='center')
vp.text(920, 114, 'Down-regulated genes', fontsize=13.8, ha='center', va='center')
for t, c, y in zip(['SV-Spike', 'Spike+aOX40', 'aOX40'], [teal, purple, red], [221, 238, 255]):
    vp.add_patch(Ellipse((1049, y), 11, 11, fc=c, ec='#333333', lw=.8))
    vp.text(1063, y, t, fontsize=9, va='center')

# ---- C
ma_boxes = [(1268, 13.5, 1614, 184), (1267, 205, 1613, 375), (1268, 396, 1614, 565)]
cc = crop_ax(1150, 0, 1772, 640, 1568, 1568, z=6)
RED, BLUE, GREY = '#E7654A', '#2F5597', '#666666'
for i, b in enumerate(ma_boxes):
    ax = add_px(*b)
    # hatched zones stand for the loose dots around the dense core
    x, y = split(red_sparse[i])
    ax.fill_between(x, 0, y, facecolor='#F9DDD6', edgecolor=RED, hatch='.....', lw=0)
    x, y = split(red_dense[i])
    ax.fill_between(x, 0, y, color=RED, lw=0)
    x, y = split(blue_sparse[i])
    ax.fill_between(x, 0, y, facecolor='#D5DDEC', edgecolor=BLUE, hatch='.....', lw=0)
    x, y = split(blue_dense[i])
    ax.fill_between(x, 0, y, color=BLUE, lw=0)
    x, y = split(grey_up[i])
    ax.fill_between(x, 0, y, color=GREY, lw=0)
    x, y = split(grey_lo[i])
    ax.fill_between(x, 0, y, color=GREY, lw=0)
    for pts, c in [(red_pts[i], RED), (blue_pts[i], BLUE), (grey_pts[i], GREY)]:
        x, y = split(pts)
        ax.scatter(x, y, s=5, c=c, linewidths=0)
    ax.axhline(0, color='#333333', lw=.9, ls=(0, (3, 2.5)))
    ax.set_xlim(-3.5, 13.9)
    ax.set_ylim(-4.4, 4.4)
    ax.set_xticks([-1, 1, 3, 5, 7, 9, 11])
    ax.set_yticks([-4, -2, 0, 2, 4])
    ax.tick_params(labelbottom=False, labelleft=False, length=1.5, width=.5, color='#888888')
    for s in ax.spines.values():
        s.set_color('#B5B5B5')
        s.set_linewidth(1.1)
    ax.spines['bottom'].set_color('#777777')
for y in [10, 480, 946]:
    cc.text(295, y, 'MA Plot', fontsize=7, color='#555555', va='center')
for t, x, y in [('SV.Spike', 1137, 360), ('aOX40', 1137, 878), ('SV.Spike+aOX40', 1150, 1338)]:
    cc.text(x, y, t, fontsize=19, ha='right', va='center')
for zx, ys in [(232, [67, 155, 245, 335, 440]), (232, [525, 625, 715, 805, 915]), (235, [993, 1083, 1172, 1262, 1370])]:
    for t, y in zip(['4', '2', '0', '-2', '-4'], ys):
        cc.text(zx, y, t, fontsize=12, rotation=90, ha='center', va='center')
for t, x in zip(['-1', '2', '3', '5', '7', '9', '11'], [410, 523, 627, 730, 822, 926, 1028]):
    cc.text(x, 1455, t, fontsize=12, ha='center', va='center')
cc.text(725, 1517, 'Log (Base Mean)', fontsize=11.5, ha='center', va='center')
cc.text(90, 705, 'Log2 (Fold Change) gene expression', fontsize=11.5, rotation=90, ha='center', va='center')
cc.plot([150, 150], [157, 1300], color='black', lw=1.4)

# ---- D
dd = crop_ax(0, 380, 1150, 1210, 1568, 1568, z=4)
draw_net(dd, d_clusters, d_pairs, d_single, d_big, alpha=.5, ecol='#3550D0')
segs = list(itertools.combinations(ribo, 2))
dd.add_collection(LineCollection(segs, colors='#5A9FA8', linewidths=.6, alpha=.3, zorder=2))
x, y = split(ribo)
dd.scatter(x, y, s=10, c='#6FB5A5', edgecolors='#6FA5A0', linewidths=.5, zorder=3)
x, y = split(ribo_big)
dd.scatter(x, y, s=45, c='#5FA89E', edgecolors='#6FA5A0', linewidths=.5, zorder=3)
rings(dd, d_rings)
dd.add_patch(Ellipse((724, 1345), 136, 162, fill=False, ec='#45A5DC', lw=1.2, ls=(0, (3, 2)), zorder=5))
for x, y, t in d_texts:
    dd.text(x, y, t, fontsize=7.2, va='center', zorder=6, color='#222222')
for x0, y0, x1, y1 in [(320, 515, 493, 606), (816, 470, 954, 560), (927, 828, 1083, 950), (583, 965, 752, 1057)]:
    dd.add_patch(Rectangle((x0, y0), x1 - x0, y1 - y0, fc='white', ec='#CFCFCF', lw=1.3, zorder=6))
for x, y, t in [(404, 546, 'Immune Cell'), (404, 576, 'Migration'), (885, 501, 'T cell'), (885, 532, 'Activation'),
                (667, 997, 'Immune'), (666, 1028, 'Response')]:
    dd.text(x, y, t, fontsize=10, fontweight='bold', ha='center', va='center', zorder=7)
for y, t in [(855, 'Chemokine/'), (887, 'Cytokine'), (920, 'Signaling')]:
    dd.text(945, y, t, fontsize=10, fontweight='bold', va='center', zorder=7)
for a, b in [((510, 573), (568, 605)), ((798, 515), (697, 535)), ((940, 878), (872, 860)), ((668, 963), (710, 850))]:
    dd.add_patch(FancyArrowPatch(a, b, arrowstyle='-|>', mutation_scale=14, color='black', lw=1.3, zorder=8, shrinkA=0, shrinkB=0))
dd.add_patch(Rectangle((1118, 1227), 447, 154, fc='white', ec='#B5B5B5', lw=1.3, zorder=6))
dd.add_patch(Ellipse((1150, 1260), 42, 48, fill=False, ec='#B5202C', lw=1.2, ls=(0, (3, 2)), zorder=7))
dd.add_patch(Ellipse((1150, 1315), 50, 50, fill=False, ec='#45A5DC', lw=1.1, ls=(0, (3, 2)), zorder=7))
dd.scatter([1160], [1254], s=42, c='#F2E0DA', edgecolors='#C05050', linewidths=.9, zorder=8)
dd.scatter([1155], [1314], s=42, c='#60B5A8', edgecolors='#4090C0', linewidths=.9, zorder=8)
dd.plot([1133, 1165], [1356, 1356], color='#3355D8', lw=2, zorder=8)
for y, t in [(1263, 'Upregulated clusters in SV+aOX40'), (1311, 'Downregulated clusters in SV+aOX40'), (1354, 'Edge stroke color')]:
    dd.text(1187, y, t, fontsize=10.8, va='center', zorder=8)

# ---- E
ee = crop_ax(1130, 680, 1772, 1180, 1568, 1500, z=4)
draw_net(ee, e_clusters, e_pairs, e_single, e_big, s=14, sb=65, lw=.8, alpha=.62, ecol='#2F45CC', reach=120)
rings(ee, e_rings)
for x, y, t, fs, w in [(141, 316, 'Cytokine', 6.2, 'normal'), (141, 345, 'Production', 6.2, 'normal'), (1027, 529, 'Chemotaxis', 6.2, 'bold'),
                       (640, 618, 'Immune', 6.2, 'bold'), (640, 647, 'Response', 6.2, 'bold'), (62, 803, 'B cell engagement', 10, 'normal'),
                       (886, 984, 'DNA', 6.2, 'normal'), (886, 1012, 'Replication', 6.2, 'normal'), (624, 1132, 'Cell Cycle', 6.2, 'normal'),
                       (1403, 333, 'Regulation of ROS', 6.2, 'normal')]:
    ee.text(x, y, t, fontsize=fs, fontweight=w, va='center', zorder=6, clip_on=False)

# ---- F, G
fg = crop_ax(0, 1220, 860, 2250, 1568, 1568, z=4)
fg.text(930, 188, 'Top 10 in Network ranked by MCC', fontsize=14.5, ha='center', va='center')
for nodes, cols, labels in [(f_nodes, f_colors, f_labels), (g_nodes, g_colors, g_labels)]:
    segs = list(itertools.combinations(nodes, 2))
    fg.add_collection(LineCollection(segs, colors='#8A8A8A', linewidths=.55, linestyles=[(0, (1.6, 1.6))], zorder=1))
    for p, c in zip(nodes, cols):
        fg.add_patch(Ellipse(p, 98, 38, fc=c, ec='none', zorder=2))
    for x, y, t in labels:
        fg.text(x, y, t, fontsize=6.95, va='center', zorder=3, color='#222222')
for x0, x1, xc, y0, y1, rt, rb, ranks, cols, hy, hx, fs in [(122, 228, 134, 528, 930, 584, 920, f_rank, f_rank_colors, 563, 177, 10.5),
                                                            (120, 230, 141, 1097, 1530, 1147, 1520, g_rank, g_rank_colors, 1124, 188, 12)]:
    fg.add_patch(Rectangle((x0, y0), x1 - x0, y1 - y0, fc='#EFEFEF', ec='#D5D5D5', lw=.8, zorder=1))
    fg.add_patch(Rectangle((xc, y0 + 12), x1 - xc, rt - y0 - 12, fc='#F8F8F8', ec='none', zorder=1))
    fg.text(hx, hy, 'Rank', fontsize=fs, ha='center', va='center', color='#222222', zorder=3)
    h = (rb - rt) / len(ranks)
    for i, (r, c) in enumerate(zip(ranks, cols)):
        fg.add_patch(Rectangle((xc, rt + i * h), x1 - xc, h, fc=c, ec='none', zorder=2))
        fg.plot([xc, x1], [rt + (i + 1) * h] * 2, color='#444444', lw=.8, zorder=2)
        fg.text(xc + 4, rt + (i + .5) * h, str(r), fontsize=fs, va='center', color='#222222', zorder=3)

# ---- H
cmap = LinearSegmentedColormap.from_list('hm', [(0, '#1C3276'), (.17, '#2A4487'), (.5, '#F8F6F6'), (.83, '#A82020'), (1, '#A01010')])
ax = add_px(1008, 1209, 1212, 2209)
heat = np.array(heat)
gap = .2
y = 0
r = 0
centers = []
for n in groups:
    ax.pcolormesh([0, 1, 2, 3, 4], np.arange(n + 1) + y, heat[r:r + n], cmap=cmap, vmin=-1.5, vmax=1.5)
    centers += list(np.arange(n) + y + .5)
    y += n + gap
    r += n
ax.set_xlim(0, 4)
ax.set_ylim(y - gap, 0)
ax.set_yticks(centers)
ax.set_yticklabels(genes, fontsize=9.2, color='#333333')
ax.yaxis.tick_right()
ax.set_xticks([.5, 1.5, 2.5, 3.5])
ax.set_xticklabels(heat_cols, rotation=-90, fontsize=8.7, color='#333333')
ax.tick_params(length=0, pad=3)
for s in ax.spines.values():
    s.set_visible(False)
ov.text(1110, 1196, 'Heatmap', fontsize=8.5, fontweight='bold', ha='center', va='center')
cb = add_px(1268, 1209, 1279, 1366)
cb.pcolormesh([0, 1], np.linspace(-1.47, 1.5, 101), np.linspace(-1.47, 1.5, 100).reshape(-1, 1), cmap=cmap, vmin=-1.5, vmax=1.5)
cb.set_xticks([])
cb.yaxis.tick_right()
cb.set_yticks([-1, -.5, 0, .5, 1])
cb.set_yticklabels(['-1', '-0.5', '0', '0.5', '1'], fontsize=6.5, color='#333333')
cb.tick_params(length=0, pad=3)
for s in cb.spines.values():
    s.set_visible(False)
for t, x, y in group_names:
    ov.text(x, y, t, fontsize=14.5, va='center', linespacing=1.25)
for y in group_lines:
    ov.plot([871, 958], [y, y], color='black', lw=1)

# ---- I, J
gbg = crop_ax(1340, 1440, 1740, 2200, 1200, 1568, z=1)
gtx = crop_ax(1340, 1440, 1740, 2200, 1200, 1568, z=7)


def cx(v):
    return 1340 + v / 3


def cy(v):
    return 1440 + v * 760 / 1568


def gsea(bg, left, right, xmax, es_box, es_lim, es_ticks, es, hit_box, hits, rank_box, rank_lim, rank_ticks, metric, zero):
    gbg.add_patch(Rectangle((bg[0], bg[1]), bg[2] - bg[0], bg[3] - bg[1], fc='#F0F0F0', ec='none'))
    a1 = add_px(cx(left), cy(es_box[0]), cx(right), cy(es_box[1]), z=3)
    x, y = split(es)
    a1.plot(x, y, color='#7CF030', lw=1.5)
    a1.axhline(0, color='#888888', lw=.4)
    a1.set_xlim(0, xmax)
    a1.set_ylim(*es_lim)
    a1.set_yticks(es_ticks)
    a1.set_xticks([])
    a1.grid(color='#E8E8E8', lw=.4)
    a1.tick_params(labelsize=5.2, length=1.5, width=.4, labelcolor='#555555', pad=1)
    a2 = add_px(cx(left), cy(hit_box[0]), cx(right), cy(hit_box[1]), z=3)
    a2.vlines(hits, .2, 1, color='#111111', lw=.75)
    for i, c in enumerate(strip_colors):
        a2.axvspan(strip_edges[i], strip_edges[i + 1], 0, .2, color=c, lw=0)
    a2.set_xlim(0, xmax)
    a2.set_ylim(0, 1)
    a2.set_xticks([])
    a2.set_yticks([])
    a3 = add_px(cx(left), cy(rank_box[0]), cx(right), cy(rank_box[1]), z=3)
    x, y = split(metric)
    a3.fill_between(x, 0, y, color='#BDBDBD', lw=0)
    a3.axvline(zero, color='#999999', lw=.5, ls=':')
    a3.set_xlim(0, xmax)
    a3.set_ylim(*rank_lim)
    a3.set_yticks(rank_ticks)
    a3.set_xticks(range(0, 18001, 2000))
    a3.set_xticklabels([f'{v:,}' for v in range(0, 18001, 2000)])
    a3.grid(color='#EFEFEF', lw=.4)
    a3.tick_params(labelsize=5, length=1.5, width=.4, labelcolor='#555555', pad=1)
    for a in (a1, a2, a3):
        for s in a.spines.values():
            s.set_color('#AAAAAA')
            s.set_linewidth(.4)


gsea((187, 80, 1096, 707), 290, 1082, 18880, (140, 373), (-.05, .608), [0, .1, .2, .3, .4, .5, .6], es_i, (375, 470), hits_i,
     (470, 625), (-2.45, 2.85), [-2, -1, 0, 1, 2], metric_i, 8600)
gsea((189, 863, 1124, 1507), 296, 1110, 18930, (895, 1148), (-.05, .712), [0, .1, .2, .3, .4, .5, .6, .7], es_j, (1150, 1253), hits_j,
     (1253, 1425), (-3.5, 5.1), [-2, 0, 2, 4], metric_j, 8811)

big_txt = [('NES=1.97', 1072, 185), ('P=0.044', 1072, 262), ('FDR q=0.0084', 1080, 338),
           ('NES=2.02', 1078, 938), ('P=0.0022', 1072, 1022), ('FDR q=0.002', 1085, 1106)]
for t, x, y in big_txt:
    gtx.text(x, y, t, fontsize=19, ha='right', va='center')
gtx.text(636, 95, 'Enrichment plot:', fontsize=7.4, fontweight='bold', ha='center', va='center')
gtx.text(641, 122, 'GOBP_IMMUNOGLOBULIN_PRODUCTION', fontsize=7.4, fontweight='bold', ha='center', va='center')
gtx.text(657, 878, 'Enrichment plot: GOBP_RESPONSE_TO_CHEMOKINE', fontsize=7.9, fontweight='bold', ha='center', va='center')
small = [(297, 478, "'SV-Spike' (positively correlated)", '#E03030', 'left'), (687, 613, "'Naive' (negatively correlated)", '#3030E0', 'left'),
         (648, 547, 'Zero cross at 8600', '#555555', 'center'), (303, 1263, "'Spike+aOX40' (positively correlated)", '#E03030', 'left'),
         (703, 1410, "'Naive' (negatively correlated)", '#3030E0', 'left'), (672, 1339, 'Zero cross at 8811', '#555555', 'center')]
for x, y, t, c, ha in small:
    gtx.text(x, y, t, fontsize=5.2, color=c, ha=ha, va='center')
gtx.text(687, 656, 'Rank in Ordered Dataset', fontsize=5.8, ha='center', va='center', color='#333333')
gtx.text(703, 1456, 'Rank in Ordered Dataset', fontsize=5.8, ha='center', va='center', color='#333333')
for x, y, t, fs in [(222, 270, 'Enrichment score (ES)', 5.6), (235, 545, 'Ranked list metric (Signal2Noise)', 5),
                    (225, 1020, 'Enrichment score (ES)', 5.6), (238, 1335, 'Ranked list metric (Signal2Noise)', 5)]:
    gtx.text(x, y, t, fontsize=fs, rotation=90, ha='center', va='center', color='#333333')
for x0, x1, y0, y1, dx in [(320, 961, 677, 703, 0), (328, 984, 1477, 1504, 8)]:
    gtx.add_patch(Rectangle((x0, y0), x1 - x0, y1 - y0, fc='white', ec='#555555', lw=.6))
    ym = (y0 + y1) / 2
    gtx.plot([x0 + 7, x0 + 35], [ym, ym], color='#7CF030', lw=1)
    gtx.text(x0 + 41, ym, 'Enrichment profile', fontsize=5, va='center', color='#333333')
    gtx.plot([x0 + 243 + dx, x0 + 268 + dx], [ym, ym], color='#444444', lw=.6)
    gtx.text(x0 + 276 + dx, ym, 'Hits', fontsize=5, va='center', color='#333333')
    gtx.plot([x0 + 372 + dx, x0 + 395 + dx], [ym, ym], color='#CCCCCC', lw=.6)
    gtx.text(x0 + 403 + dx, ym, 'Ranking metric scores', fontsize=5, va='center', color='#333333')

fig.savefig('out.png', dpi=100)
